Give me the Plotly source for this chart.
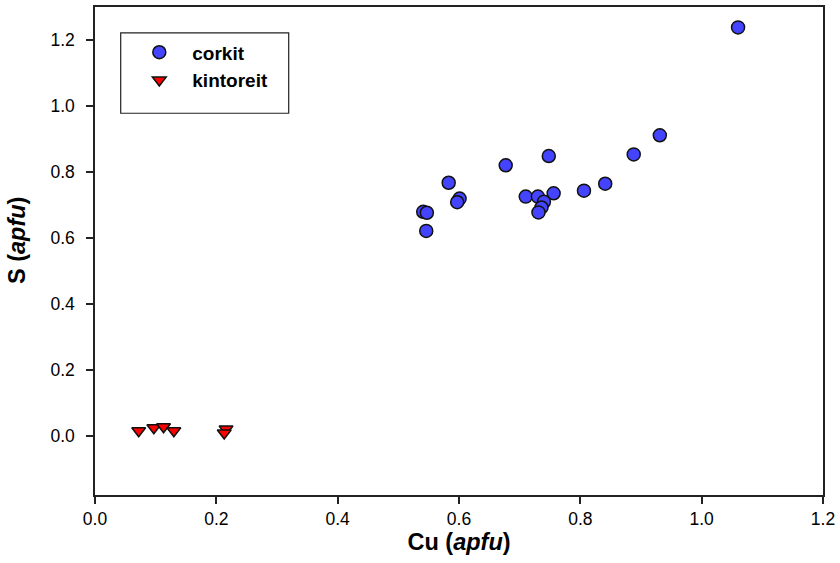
import plotly.graph_objects as go

# corkit data (Cu apfu, S apfu)
corkit_cu = [1.060, 0.931, 0.888, 0.841, 0.806, 0.756, 0.748, 0.677, 0.710, 0.730,
             0.740, 0.736, 0.731, 0.583, 0.601, 0.597, 0.541, 0.547, 0.546]
corkit_s = [1.238, 0.911, 0.853, 0.764, 0.743, 0.735, 0.848, 0.820, 0.725, 0.725,
            0.709, 0.692, 0.677, 0.767, 0.719, 0.708, 0.679, 0.676, 0.621]

# kintoreit data
kint_cu = [0.072, 0.097, 0.113, 0.130, 0.216, 0.213]
kint_s = [0.015, 0.024, 0.027, 0.015, 0.020, 0.008]

x_ticks = [0.0, 0.2, 0.4, 0.6, 0.8, 1.0, 1.2]
y_ticks = [0.0, 0.2, 0.4, 0.6, 0.8, 1.0, 1.2]

FONT = "Liberation Sans, Arial, sans-serif"

fig = go.Figure()
fig.add_trace(go.Scatter(
    x=corkit_cu, y=corkit_s, mode="markers", name="corkit",
    marker=dict(symbol="circle", size=13, color="#4444FF",
                line=dict(color="#111111", width=1.5)),
))
fig.add_trace(go.Scatter(
    x=kint_cu, y=kint_s, mode="markers", name="kintoreit",
    marker=dict(symbol="triangle-down", size=12, color="#FF0000",
                line=dict(color="#111111", width=1.5)),
))

fig.update_layout(
    width=840, height=563,
    margin=dict(l=95, r=17, t=5, b=68),
    paper_bgcolor="white", plot_bgcolor="white",
    font=dict(family=FONT, color="black", size=17),
    showlegend=True,
    legend=dict(
        x=0.043, y=0.946, xanchor="left", yanchor="top",
        bgcolor="rgba(0,0,0,0)", borderwidth=0,
        font=dict(family=FONT, size=19, color="black", weight="bold"),
        itemwidth=56,
    ),
    shapes=[dict(type="rect", xref="paper", yref="paper",
                 x0=(120.7 - 95) / 728, x1=(288.7 - 95) / 728,
                 y0=(490 - 106.7) / 490, y1=(490 - 26) / 490,
                 line=dict(color="#222222", width=1.2), fillcolor="rgba(0,0,0,0)",
                 layer="below")],
    annotations=[dict(
        text="<b>S (<i>apfu</i>)</b>", xref="paper", yref="paper",
        x=(17 - 95) / 728, y=(490 - 235) / 490, xanchor="center", yanchor="middle",
        textangle=-90, showarrow=False,
        font=dict(family=FONT, size=23.5, color="black"),
    )],
)

fig.update_xaxes(
    range=[0, 1.2], tickvals=x_ticks, tickformat=".1f",
    showgrid=False, zeroline=False,
    showline=True, linecolor="#222222", linewidth=1.5, mirror=True,
    ticks="outside", ticklen=7, tickwidth=1.5, tickcolor="#222222",
    tickfont=dict(family=FONT, size=17.5, color="black"),
    title=dict(text="<b>Cu (<i>apfu</i>)</b>", font=dict(family=FONT, size=23.5, color="black"),
               standoff=5),
)
fig.update_yaxes(
    range=[-0.18, 1.3], tickvals=y_ticks, tickformat=".1f",
    showgrid=False, zeroline=False,
    showline=True, linecolor="#222222", linewidth=1.5, mirror=True,
    ticks="outside", ticklen=7, tickwidth=1.5, tickcolor="#222222",
    tickfont=dict(family=FONT, size=17.5, color="black"),
    ticklabelstandoff=8,
)

fig.write_html("out.html", config={"displayModeBar": False},
               post_script="document.body.style.margin='0';")
